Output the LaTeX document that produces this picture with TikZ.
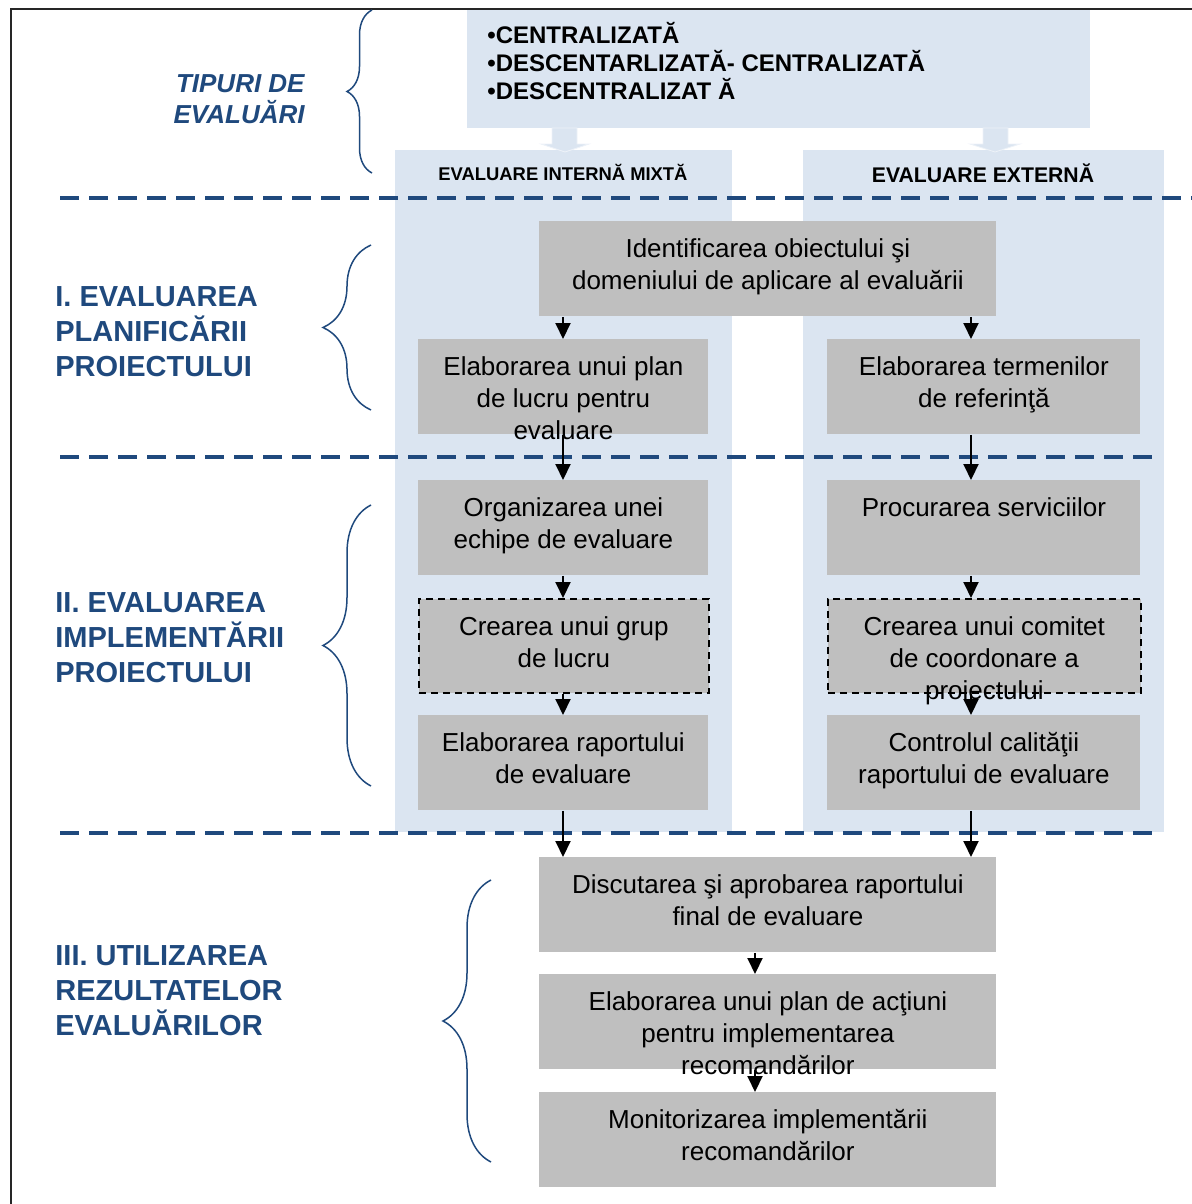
\documentclass[tikz,border=0pt]{standalone}
\usepackage{fontspec}
\setmainfont{Liberation Sans}
\usepackage{tikz}
\usetikzlibrary{arrows.meta, decorations.pathreplacing}
\definecolor{colblue}{HTML}{DBE5F1}
\definecolor{cellgray}{HTML}{BFBFBF}
\definecolor{navy}{HTML}{1F497D}
% top aligned text inside a box of fixed size
\newcommand{\cell}[3]{\parbox[c][#2][t]{#1}{\centering\vspace*{7pt}\strut#3}}
\newcommand{\listcell}[3]{\parbox[c][#2][t]{#1}{\raggedright\vspace*{6pt}\rule{0pt}{9.8pt}#3}}

\begin{document}
\begin{tikzpicture}[x=0.5pt, y=-0.5pt,
        colbox/.style={fill=colblue, inner sep=0pt},
        greybox/.style={fill=cellgray, inner sep=0pt, anchor=north west, font=\fontsize{13}{16}\selectfont},
        dashbox/.style={greybox, draw=black, line width=0.8pt, dash pattern=on 3.5pt off 2.5pt},
        sepline/.style={navy, line width=2pt, dash pattern=on 9.5pt off 5pt},
        flow/.style={-{Triangle[length=8pt, width=7.5pt]}, line width=1pt},
        blockarrow/.style={fill=colblue, draw=colblue!50!white, line width=0.4pt},
        curly/.style={navy, line width=0.75pt, decorate, decoration={brace, amplitude=#1}},
        phase/.style={navy, font=\fontsize{14.5}{17.5}\selectfont\bfseries, align=left, anchor=west, inner sep=0pt}]
        \useasboundingbox (0,0) rectangle (1192,1204);
        % Frame
        \draw [line width=1pt, black!85] (11,1204) -- (11,9) -- (1192,9);
        % Types and columns
        \node [colbox, anchor=north west, inner xsep=10pt, font=\fontsize{12}{14}\selectfont\bfseries] (types) at (467,10)
            {\listcell{291.5pt}{59pt}{•CENTRALIZATĂ\\•DESCENTARLIZATĂ- CENTRALIZATĂ\\•DESCENTRALIZAT Ă}};
        \node [colbox, anchor=north west, minimum width=168.5pt, minimum height=341pt] (colL) at (395,150) {};
        \node [colbox, anchor=north west, minimum width=180.5pt, minimum height=341pt] (colR) at (803,150) {};
        \draw [blockarrow] (552,128) -- (577,128) -- (577,144) -- (589,144) -- (565,152) -- (541,144) -- (552,144) -- cycle;
        \draw [blockarrow] (983,128) -- (1008,128) -- (1008,144) -- (1020,144) -- (995,152) -- (970,144) -- (983,144) -- cycle;
        \node [font=\fontsize{9.2}{11}\selectfont\bfseries] (hL) at (563,172) {EVALUARE INTERNĂ MIXTĂ};
        \node [font=\fontsize{10.6}{12}\selectfont\bfseries] (hR) at (983,173) {EVALUARE EXTERNĂ};
        % Separators
        \draw [sepline] (60,198) -- (1192,198);
        \draw [sepline] (60,457) -- (1155,457);
        \draw [sepline] (60,833) -- (1155,833);
        % Steps
        \node [greybox] (A) at (539,221) {\cell{228.5pt}{47.5pt}{Identificarea obiectului şi\\domeniului de aplicare al evaluării}};
        \node [greybox] (B) at (418,339) {\cell{145pt}{47.5pt}{Elaborarea unui plan\\de lucru pentru\\evaluare}};
        \node [greybox] (C) at (827,339) {\cell{156.5pt}{47.5pt}{Elaborarea termenilor\\de referinţă}};
        \node [greybox] (D) at (418,480) {\cell{145pt}{47.5pt}{Organizarea unei\\echipe de evaluare}};
        \node [greybox] (E) at (827,480) {\cell{156.5pt}{47.5pt}{Procurarea serviciilor}};
        \node [dashbox] (F) at (418,598) {\cell{145pt}{47pt}{Crearea unui grup\\de lucru}};
        \node [dashbox] (G) at (827,598) {\cell{156.5pt}{47pt}{Crearea unui comitet\\de coordonare a\\proiectului}};
        \node [greybox] (H) at (418,715) {\cell{145pt}{47.5pt}{Elaborarea raportului\\de evaluare}};
        \node [greybox] (I) at (827,715) {\cell{156.5pt}{47.5pt}{Controlul calităţii\\raportului de evaluare}};
        \node [greybox] (J) at (539,857) {\cell{228.5pt}{47.5pt}{Discutarea şi aprobarea raportului\\final de evaluare}};
        \node [greybox] (K) at (539,974) {\cell{228.5pt}{47.5pt}{Elaborarea unui plan de acţiuni\\pentru implementarea\\recomandărilor}};
        \node [greybox] (L) at (539,1092) {\cell{228.5pt}{47.5pt}{Monitorizarea implementării\\recomandărilor}};
        % Arrows
        \coordinate (lx) at (563,0);
        \coordinate (rx) at (971,0);
        \coordinate (mx) at (755,0);
        \draw [flow] (A.south -| lx) -- (B.north -| lx);
        \draw [flow] (A.south -| rx) -- (C.north -| rx);
        \draw [flow] (B.south -| lx) -- (D.north -| lx);
        \draw [flow] (C.south -| rx) -- (E.north -| rx);
        \draw [flow] (D.south -| lx) -- (F.north -| lx);
        \draw [flow] (E.south -| rx) -- (G.north -| rx);
        \draw [flow] (F.south -| lx) -- (H.north -| lx);
        \draw [flow] (G.south -| rx) -- (I.north -| rx);
        \draw [flow] (H.south -| lx) -- (J.north -| lx);
        \draw [flow] (I.south -| rx) -- (J.north -| rx);
        \draw [flow] (J.south -| mx) -- (K.north -| mx);
        \draw [flow] (K.south -| mx) -- (L.north -| mx);
        % Braces
        \draw [curly=12.5pt] (372,173) -- (372,10);
        \draw [curly=24pt] (371,410) -- (371,245);
        \draw [curly=24pt] (371,786) -- (371,505);
        \draw [curly=24pt] (491,1162) -- (491,880);
        % Phases
        \node [navy, font=\fontsize{13}{15.5}\selectfont\bfseries\itshape, align=right, anchor=east, inner sep=0pt] (tTypes) at (305,99) {TIPURI DE\\EVALUĂRI};
        \node [phase] (tPlan) at (55,332) {I. EVALUAREA\\PLANIFICĂRII\\PROIECTULUI};
        \node [phase] (tImpl) at (55,638) {II. EVALUAREA\\IMPLEMENTĂRII\\PROIECTULUI};
        \node [phase] (tUse) at (55,991) {III. UTILIZAREA\\REZULTATELOR\\EVALUĂRILOR};
    \end{tikzpicture}
\end{document}
